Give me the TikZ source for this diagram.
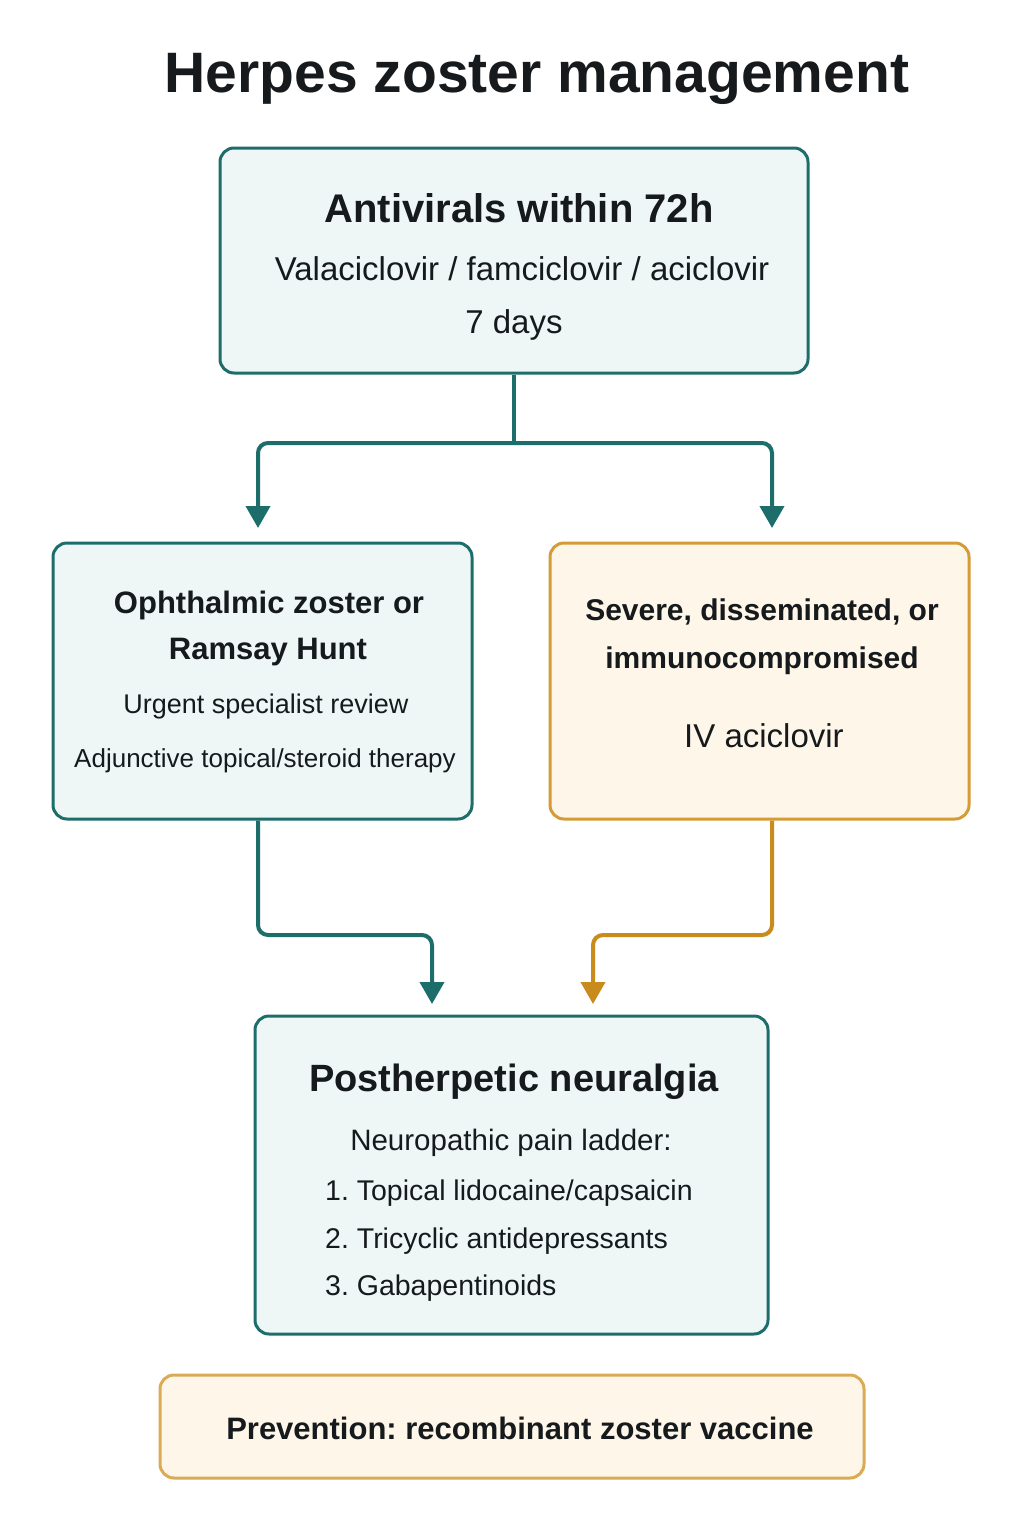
\documentclass[tikz,border=0pt]{standalone}
\usepackage{fontspec}
\setmainfont{Liberation Sans}
\usetikzlibrary{arrows.meta}
\frenchspacing

\definecolor{tealline}{HTML}{1D6E6B}
\definecolor{tealfill}{HTML}{EEF7F6}
\definecolor{ambline}{HTML}{D59B36}
\definecolor{ambfill}{HTML}{FDF6E9}
\definecolor{ambarrow}{HTML}{C98B1C}
\definecolor{inkc}{HTML}{161A1D}

\tikzset{
  tealbox/.style={draw=tealline, fill=tealfill, line width=3pt, rounded corners=14pt, inner sep=0pt},
  ambbox/.style={draw=ambline, fill=ambfill, line width=3pt, rounded corners=14pt, inner sep=0pt},
  headtxt/.style={font=\bfseries\fontsize{31}{36}\selectfont, text=inkc, inner sep=0pt, anchor=base},
  bodytxt/.style={font=\fontsize{27}{32}\selectfont, text=inkc, inner sep=0pt, anchor=base},
  tealarrow/.style={draw=tealline, line width=4pt, rounded corners=10pt, -{Triangle[width=24pt,length=22pt]}},
  ambarrowline/.style={draw=ambarrow, line width=4pt, rounded corners=10pt, -{Triangle[width=24pt,length=22pt]}}
}

\begin{document}
\begin{tikzpicture}[x=1pt, y=-1pt]
  \useasboundingbox[fill=white] (0,0) rectangle (1024,1536);

  % titel
  \node[font=\bfseries\fontsize{57}{64}\selectfont, text=inkc, inner sep=0pt, anchor=base] (title) at (537,93) {Herpes zoster management};

  % boxes
  \node[tealbox, minimum width=588, minimum height=225] (anti) at (514,260.5) {};
  \node[tealbox, minimum width=419, minimum height=276] (ophth) at (262.5,681) {};
  \node[ambbox, minimum width=419, minimum height=276] (severe) at (759.5,681) {};
  \node[tealbox, minimum width=513, minimum height=318] (phn) at (511.5,1175) {};
  \node[ambbox, draw=ambline!85, minimum width=704, minimum height=103] (prev) at (512,1426.5) {};

  % texts
  \node[headtxt, font=\bfseries\fontsize{40}{46}\selectfont] (antiH) at (519,222) {Antivirals within 72h};
  \node[bodytxt, font=\fontsize{33}{38}\selectfont] (antiA) at (522,280) {Valaciclovir / famciclovir / aciclovir};
  \node[bodytxt, font=\fontsize{33}{38}\selectfont] (antiB) at (514,333) {7 days};

  \node[headtxt] (ophthA) at (269,613) {Ophthalmic zoster or};
  \node[headtxt] (ophthB) at (268,659) {Ramsay Hunt};
  \node[bodytxt] (ophthC) at (266,713) {Urgent specialist review};
  \node[bodytxt, font=\fontsize{26}{30}\selectfont] (ophthD) at (265,767) {Adjunctive topical/steroid therapy};

  \node[headtxt, font=\bfseries\fontsize{30}{36}\selectfont] (severeA) at (762,620) {Severe, disseminated, or};
  \node[headtxt, font=\bfseries\fontsize{30}{36}\selectfont] (severeB) at (762,668) {immunocompromised};
  \node[bodytxt, font=\fontsize{33}{38}\selectfont] (severeC) at (764,747) {IV aciclovir};

  \node[headtxt, font=\bfseries\fontsize{38}{44}\selectfont] (phnH) at (514,1091) {Postherpetic neuralgia};
  \node[bodytxt, font=\fontsize{29.5}{34}\selectfont] (phnA) at (511,1150) {Neuropathic pain ladder:};
  \node[bodytxt, font=\fontsize{28.5}{34}\selectfont, anchor=base west] (phn1) at (325,1200) {1.\ Topical lidocaine/capsaicin};
  \node[bodytxt, font=\fontsize{28.5}{34}\selectfont, anchor=base west] (phn2) at (325,1248) {2.\ Tricyclic antidepressants};
  \node[bodytxt, font=\fontsize{28.5}{34}\selectfont, anchor=base west] (phn3) at (325,1295) {3.\ Gabapentinoids};

  \node[headtxt] (prevA) at (520,1439) {Prevention: recombinant zoster vaccine};

  % connectors
  \coordinate (split) at (514,443);
  \coordinate (tipL) at (258,528);
  \coordinate (tipR) at (772,528);
  \coordinate (tipPL) at (432,1004);
  \coordinate (tipPR) at (593,1004);

  \draw[draw=tealline, line width=4pt] (anti.south) -- (split);
  \draw[tealarrow] (split) -| (tipL);
  \draw[tealarrow] (split) -| (tipR);
  \draw[tealarrow] (ophth.south -| tipL) |- (432,935) -- (tipPL);
  \draw[ambarrowline] (severe.south -| tipR) |- (593,935) -- (tipPR);
\end{tikzpicture}
\end{document}
